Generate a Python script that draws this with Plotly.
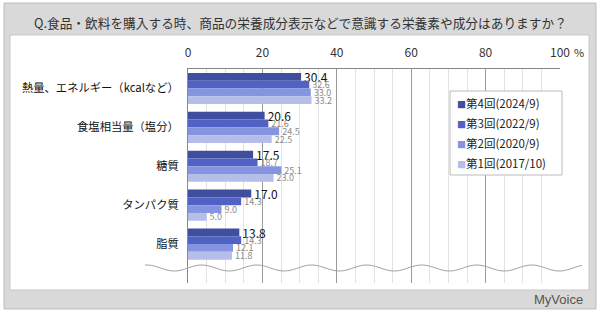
import numpy as np
import plotly.graph_objects as go

categories = ["熱量、エネルギー（kcalなど）", "食塩相当量（塩分）", "糖質", "タンパク質", "脂質"]
series_names = ["第4回(2024/9)", "第3回(2022/9)", "第2回(2020/9)", "第1回(2017/10)"]
v2024 = [30.4, 20.6, 17.5, 17.0, 13.8]
v2022 = [32.6, 21.6, 18.7, 14.3, 14.3]
v2020 = [33.0, 24.5, 25.1, 9.0, 12.1]
v2017 = [33.2, 22.5, 23.0, 5.0, 11.8]
tick_vals = [0, 20, 40, 60, 80, 100]
tick_text = ["0", "20", "40", "60", "80", "100"]
title_text = "Q.食品・飲料を購入する時、商品の栄養成分表示などで意識する栄養素や成分はありますか？"

series_values = [v2024, v2022, v2020, v2017]
colors = ["#3f4e9f", "#5063c4", "#8594de", "#b5bde9"]
label_fonts = [dict(size=12, color="#111"), dict(size=9, color="#8a8a8a"),
               dict(size=9, color="#8a8a8a"), dict(size=9, color="#8a8a8a")]

FONT = "Noto Sans CJK JP"
W, H = 600, 312
L, R, T, B = 188, 40, 69, 29
pw, ph = W - L - R, H - T - B

def px2x(x):
    return (x - L) / pw

def px2y(y):
    return (H - B - y) / ph

fig = go.Figure()
for name, vals, col, lf in zip(series_names, series_values, colors, label_fonts):
    fig.add_trace(go.Bar(
        y=categories, x=vals, name=name, orientation="h",
        marker=dict(color=col, line=dict(width=0)),
        text=[f"{v:.1f}" for v in vals], textposition="outside",
        textfont=dict(family=FONT, **lf), constraintext="none",
        cliponaxis=False, showlegend=False,
    ))

shapes = [
    dict(type="rect", xref="paper", yref="paper", layer="below",
         x0=px2x(4), x1=px2x(596), y0=px2y(309), y1=px2y(3),
         fillcolor="#d9d9d9", line=dict(color="#bdbdbd", width=1)),
    dict(type="rect", xref="paper", yref="paper", layer="below",
         x0=px2x(10), x1=px2x(589), y0=px2y(290), y1=px2y(35),
         fillcolor="#ffffff", line=dict(color="#c8c8c8", width=1)),
    # legend box
    dict(type="rect", xref="paper", yref="paper", layer="above",
         x0=px2x(450), x1=px2x(562), y0=px2y(175), y1=px2y(91),
         fillcolor="#ffffff", line=dict(color="#bbbbbb", width=1)),
]
# wavy break line
xs = np.linspace(px2x(145), px2x(582), 200)
ys = px2y(268) + (3.0 / ph) * np.sin((xs * pw) / 55.0 * 2 * np.pi)
path = "M " + " L ".join(f"{a:.5f},{b:.5f}" for a, b in zip(xs, ys))
shapes.append(dict(type="path", xref="paper", yref="paper", path=path,
                   line=dict(color="#a0a0a0", width=1), layer="above"))

annotations = [
    dict(text=title_text, xref="paper", yref="paper", x=px2x(300), y=px2y(22),
         showarrow=False, font=dict(family=FONT, size=12.7, color="#333"),
         xanchor="center", yanchor="middle"),
    dict(text="%", xref="x", yref="paper", x=100, y=px2y(52), xshift=12,
         showarrow=False, font=dict(family=FONT, size=11, color="#333"),
         xanchor="left", yanchor="middle"),
    dict(text="MyVoice", xref="paper", yref="paper", x=px2x(585), y=px2y(299),
         showarrow=False, font=dict(family="Liberation Sans Narrow, Arial", size=13, color="#555"),
         xanchor="right", yanchor="middle"),
]
# manual legend entries
for i, (name, col) in enumerate(zip(series_names, colors)):
    annotations.append(dict(
        text=f"<span style='color:{col};font-size:9px'>■</span>{name}",
        xref="paper", yref="paper", x=px2x(455), y=px2y(103 + 20 * i),
        showarrow=False, xanchor="left", yanchor="middle",
        font=dict(family=FONT, size=11.5, color="#222"),
    ))

fig.update_layout(
    width=W, height=H,
    margin=dict(l=L, r=R, t=T, b=B, pad=0, autoexpand=False),
    paper_bgcolor="#ffffff", plot_bgcolor="rgba(0,0,0,0)",
    barmode="group", bargap=0.2, bargroupgap=0.0,
    font=dict(family=FONT, size=12, color="#222"),
    shapes=shapes, annotations=annotations,
    showlegend=False,
)
fig.update_xaxes(
    side="top", range=[0, 100], tickvals=tick_vals, ticktext=tick_text,
    showgrid=True, gridcolor="#9a9a9a", gridwidth=1,
    minor=dict(dtick=5, showgrid=True, gridcolor="#e2e2e2", gridwidth=1),
    showline=True, linecolor="#888888", linewidth=1,
    ticks="outside", ticklen=6, tickcolor="rgba(0,0,0,0)",
    tickfont=dict(family=FONT, size=12, color="#333"),
    zeroline=False, fixedrange=True, automargin=False,
)
fig.update_yaxes(
    type="category", categoryorder="array", categoryarray=categories,
    range=[5.0, -0.5], showgrid=False, showline=True, linecolor="#888888",
    linewidth=1, ticks="", ticklabelstandoff=6, automargin=False,
    tickfont=dict(family=FONT, size=11.3, color="#111"), fixedrange=True,
)

fig.write_html("out.html")
